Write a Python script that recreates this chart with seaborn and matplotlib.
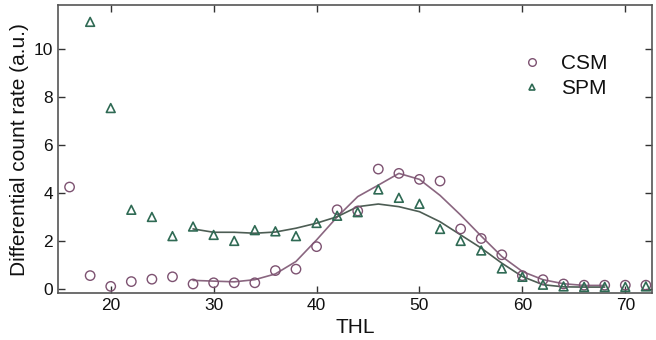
import numpy as np
import pandas as pd
import matplotlib
matplotlib.use("Agg")
import matplotlib.pyplot as plt
import seaborn as sns
from matplotlib.lines import Line2D

# Data
thl_csm = [16, 18, 20, 22, 24, 26, 28, 30, 32, 34, 36, 38, 40, 42, 44, 46, 48, 50, 52, 54, 56, 58, 60, 62, 64, 66, 68, 70, 72]
csm = [4.25, 0.55, 0.1, 0.3, 0.4, 0.5, 0.2, 0.25, 0.25, 0.25, 0.76, 0.82, 1.76, 3.3, 3.25, 5.0, 4.82, 4.57, 4.5, 2.5, 2.1, 1.42, 0.55, 0.38, 0.2, 0.15, 0.15, 0.15, 0.15]
thl_spm = [18, 20, 22, 24, 26, 28, 30, 32, 34, 36, 38, 40, 42, 44, 46, 48, 50, 52, 54, 56, 58, 60, 62, 64, 66, 68, 70, 72]
spm = [11.15, 7.55, 3.3, 3.0, 2.2, 2.6, 2.25, 2.0, 2.45, 2.4, 2.2, 2.75, 3.05, 3.2, 4.15, 3.8, 3.55, 2.5, 2.0, 1.6, 0.85, 0.5, 0.17, 0.1, 0.08, 0.08, 0.08, 0.1]

thl_fit = [28, 30, 32, 34, 36, 38, 40, 42, 44, 46, 48, 50, 52, 54, 56, 58, 60, 62, 64, 66, 68]
csm_fit = [0.35, 0.32, 0.29, 0.38, 0.62, 1.14, 2.04, 3.0, 3.85, 4.33, 4.82, 4.57, 3.9, 3.08, 2.2, 1.35, 0.72, 0.38, 0.21, 0.14, 0.14]
spm_fit = [2.5, 2.36, 2.36, 2.32, 2.37, 2.53, 2.74, 3.01, 3.43, 3.54, 3.43, 3.22, 2.8, 2.25, 1.7, 1.07, 0.51, 0.17, 0.08, 0.07, 0.07]

xticks = [20, 30, 40, 50, 60, 70]
yticks = [0, 2, 4, 6, 8, 10]

c_csm = "#7d5271"
c_spm = "#2f6a54"
c_csm_line = "#8a6680"
c_spm_line = "#4d5d54"

sns.set_style("ticks")
plt.rcParams["font.family"] = ["Liberation Sans", "DejaVu Sans"]

fig = plt.figure(figsize=(6.56, 3.4), dpi=100)
ax = fig.add_axes([0.088, 0.138, 0.906, 0.847])

df_csm = pd.DataFrame({"THL": thl_csm, "val": csm})
df_spm = pd.DataFrame({"THL": thl_spm, "val": spm})
df_fit = pd.DataFrame({"THL": thl_fit, "csm": csm_fit, "spm": spm_fit})

sns.lineplot(data=df_fit, x="THL", y="csm", ax=ax, color=c_csm_line, linewidth=1.2, zorder=2)
sns.lineplot(data=df_fit, x="THL", y="spm", ax=ax, color=c_spm_line, linewidth=1.2, zorder=2)
sns.scatterplot(data=df_csm, x="THL", y="val", ax=ax, marker="o", s=46,
                facecolor="none", edgecolor=c_csm, linewidth=1.0, zorder=3)
sns.scatterplot(data=df_spm, x="THL", y="val", ax=ax, marker="^", s=40,
                facecolor="none", edgecolor=c_spm, linewidth=1.2, zorder=3)

ax.set_xlim(14.85, 72.6)
ax.set_ylim(-0.18, 11.85)
ax.set_xticks(xticks)
ax.set_yticks(yticks)
ax.tick_params(direction="in", top=True, right=True, labelsize=12.5, length=5, width=1, colors="#333333", labelcolor="#111111")
for s in ax.spines.values():
    s.set_color("#555555")
    s.set_linewidth(1.2)

ax.set_xlabel("THL", fontsize=15, color="#111111", labelpad=4)
ax.set_ylabel("Differential count rate (a.u.)", fontsize=15, color="#111111", labelpad=3)

handles = [
    Line2D([], [], linestyle="none", marker="o", markersize=5.5, markerfacecolor="none", markeredgecolor=c_csm, markeredgewidth=1.0),
    Line2D([], [], linestyle="none", marker="^", markersize=5, markerfacecolor="none", markeredgecolor=c_spm, markeredgewidth=1.2),
]
ax.legend(handles, ["CSM", "SPM"], loc="upper left", bbox_to_anchor=(0.74, 0.896), frameon=False,
          fontsize=15, handletextpad=0.67, labelspacing=0.3, handlelength=1.5, labelcolor="#111111")

fig.savefig("out.png", dpi=100)
